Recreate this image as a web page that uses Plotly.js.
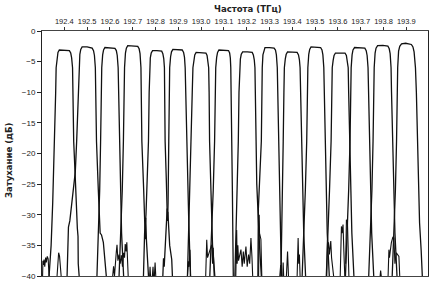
<!DOCTYPE html>
<html><head><meta charset="utf-8">
<script src="https://cdn.plot.ly/plotly-3.0.1.min.js"></script>
<style>html,body{margin:0;padding:0;background:#fff}#chart{width:436px;height:285px}</style>
</head><body><div id="chart"></div>
<script>
// Frequency tick labels (THz) on the top axis
const freqTicks = [192.4,192.5,192.6,192.7,192.8,192.9,193.0,193.1,193.2,193.3,193.4,193.5,193.6,193.7,193.8,193.9];
const freqTickText = ["192.4","192.5","192.6","192.7","192.8","192.9","193.0","193.1","193.2","193.3","193.4","193.5","193.6","193.7","193.8","193.9"];
const attTicks = [0,-5,-10,-15,-20,-25,-30,-35,-40];

// Channel responses: frequency (THz) and attenuation (dB)
const freq01 = [192.333,192.342,192.349,192.358,192.362,192.364,192.368,192.372,192.378,192.400,192.422,192.428,192.432,192.436,192.438,192.441,192.448,192.453,192.457,192.460,192.461,192.465];
const att01  = [-40,-35,-28,-18,-10,-6,-4.3,-3.5,-3.1,-3.1,-3.2,-3.6,-4.4,-6,-10,-18,-24,-30,-32.2,-33.5,-38,-40];
const freq02 = [192.412,192.418,192.424,192.448,192.454,192.461,192.464,192.468,192.472,192.478,192.500,192.522,192.528,192.532,192.536,192.538,192.541,192.549,192.557,192.563,192.571,192.584];
const att02  = [-40,-32,-31,-23,-18,-10,-6,-3.8,-3.0,-2.6,-2.6,-2.8,-3.2,-4.0,-6,-10,-18,-26,-33,-33.3,-34.5,-40];
const freq03 = [192.543,192.550,192.555,192.559,192.562,192.564,192.568,192.572,192.578,192.600,192.622,192.628,192.632,192.636,192.638,192.641,192.646,192.651,192.660];
const att03  = [-40,-33,-26,-18,-10,-6,-3.9,-3.1,-2.7,-2.75,-2.85,-3.2,-4.0,-6,-10,-18,-26,-33,-40];
const freq04 = [192.640,192.648,192.654,192.659,192.662,192.664,192.668,192.672,192.678,192.700,192.722,192.728,192.732,192.736,192.738,192.740,192.748,192.753,192.755,192.757,192.760,192.769];
const att04  = [-40,-33,-26,-18,-10,-6,-3.6,-2.8,-2.4,-2.4,-2.5,-2.9,-3.7,-6,-10,-18,-26,-30.8,-34,-30.5,-34.1,-40];
const freq05 = [192.747,192.752,192.758,192.769,192.772,192.774,192.777,192.781,192.787,192.806,192.827,192.832,192.836,192.839,192.840,192.842,192.847,192.850,192.852,192.854,192.862,192.871,192.874];
const att05  = [-40,-33,-30,-18,-10,-6,-4.4,-3.6,-3.2,-3.2,-3.3,-3.7,-4.5,-6,-10,-18,-24,-29.2,-31,-29.5,-35,-37.3,-40];
const freq06 = [192.832,192.835,192.838,192.846,192.851,192.853,192.855,192.858,192.860,192.862,192.866,192.870,192.876,192.897,192.917,192.923,192.927,192.930,192.932,192.936,192.940,192.945,192.953];
const att06  = [-40,-37.1,-38.5,-33,-29,-31,-28,-18,-10,-6,-4.2,-3.4,-3.0,-3.0,-3.1,-3.5,-4.3,-6,-10,-18,-24,-30,-40];
const freq07 = [192.940,192.946,192.950,192.955,192.961,192.964,192.968,192.972,192.978,193.000,193.021,193.026,193.030,193.033,193.035,193.037,193.043,193.050,193.060];
const att07  = [-40,-30,-24,-18,-10,-6,-4.7,-3.9,-3.5,-3.5,-3.6,-4.0,-4.8,-6,-10,-18,-26,-35,-40];
const freq08 = [193.038,193.047,193.053,193.059,193.062,193.064,193.068,193.072,193.078,193.099,193.120,193.125,193.128,193.130,193.132,193.135,193.137,193.139,193.141];
const att08  = [-40,-33,-26,-18,-10,-6,-4.3,-3.5,-3.1,-3.1,-3.2,-3.6,-4.4,-6,-10,-18,-26,-33,-40];
const freq09 = [193.148,193.153,193.157,193.163,193.166,193.168,193.172,193.176,193.182,193.203,193.224,193.229,193.233,193.236,193.238,193.240,193.244,193.256,193.264];
const att09  = [-40,-33,-26,-18,-10,-6,-4.6,-3.8,-3.4,-3.4,-3.5,-3.9,-4.7,-6,-10,-18,-25,-35,-40];
const freq10 = [193.249,193.251,193.264,193.266,193.268,193.271,193.275,193.280,193.300,193.320,193.326,193.330,193.334,193.336,193.340,193.343,193.346,193.352];
const att10  = [-40,-29,-18,-10,-6,-3.9,-3.1,-2.7,-2.7,-2.8,-3.1,-3.9,-6,-10,-18,-26,-33,-40];
const freq11 = [193.350,193.354,193.357,193.360,193.363,193.365,193.369,193.373,193.379,193.400,193.421,193.427,193.431,193.434,193.436,193.440,193.445,193.450,193.458];
const att11  = [-40,-33,-26,-18,-10,-6,-4.6,-3.8,-3.4,-3.4,-3.5,-3.9,-4.7,-6,-10,-18,-26,-33,-40];
const freq12 = [193.443,193.451,193.457,193.463,193.466,193.468,193.472,193.476,193.482,193.503,193.524,193.530,193.534,193.538,193.540,193.545,193.548,193.553,193.562];
const att12  = [-40,-33,-26,-18,-10,-6,-3.8,-3.0,-2.6,-2.6,-2.7,-3.1,-3.9,-6,-10,-18,-26,-33,-40];
const freq13 = [193.549,193.557,193.563,193.570,193.573,193.575,193.579,193.583,193.589,193.610,193.631,193.637,193.641,193.645,193.647,193.651,193.656,193.661,193.670];
const att13  = [-40,-33,-26,-18,-10,-6,-4.8,-4.0,-3.6,-3.55,-3.6,-4.0,-4.8,-6,-10,-18,-26,-33,-40];
const freq14 = [193.633,193.641,193.647,193.653,193.656,193.658,193.662,193.666,193.673,193.696,193.718,193.724,193.728,193.732,193.734,193.738,193.743,193.748,193.757];
const att14  = [-40,-33,-26,-18,-10,-6,-3.9,-3.1,-2.7,-2.7,-2.8,-3.2,-4.0,-6,-10,-18,-26,-33,-40];
const freq15 = [193.735,193.743,193.749,193.754,193.757,193.759,193.763,193.767,193.774,193.797,193.819,193.825,193.829,193.833,193.835,193.840,193.845,193.850,193.859];
const att15  = [-40,-33,-26,-18,-10,-6,-3.6,-2.8,-2.4,-2.35,-2.45,-2.9,-3.7,-6,-10,-18,-26,-33,-40];
const freq16 = [193.838,193.846,193.852,193.857,193.860,193.862,193.866,193.871,193.879,193.897,193.922,193.929,193.934,193.940,193.944,193.950,193.954,193.958,193.965,193.970];
const att16  = [-40,-33,-26,-18,-10,-6,-3.3,-2.5,-2.1,-2.0,-2.2,-2.6,-3.4,-6,-10,-18,-26,-31.3,-35.8,-40];

// Out-of-band noise bumps near the floor (null separates bumps)
const noiseFreq = [192.3046,192.306,192.308,192.311,192.314,192.318,192.321,192.325,192.329,192.333,null,
  192.368,192.372,192.375,192.379,192.383,192.386,null,
  192.612,192.616,192.620,192.624,192.628,192.631,192.635,192.640,192.645,192.650,192.655,192.660,192.664,192.667,192.671,192.674,192.677,192.680,null,
  192.774,192.776,192.778,null,192.786,192.789,192.791,null,192.795,192.798,192.801,null,
  192.940,192.944,192.947,192.951,192.954,null,
  193.020,193.0245,193.028,193.0389,193.0464,193.050,193.053,193.057,null,
  193.152,193.1558,193.158,193.161,193.164,193.1746,193.180,193.185,193.189,193.1965,193.202,193.208,193.213,193.2184,193.223,193.226,null,
  193.252,193.2547,193.256,193.2621,193.266,null,
  193.345,193.349,193.352,null,193.358,193.3597,193.362,null,193.374,193.379,193.383,null,
  193.421,193.4254,193.428,193.431,193.434,null,
  193.551,193.554,193.5567,193.5585,193.5625,193.5685,193.572,193.577,193.581,null,
  193.610,193.6153,193.618,193.6223,193.626,193.630,null,
  193.634,193.6372,193.6416,193.645,193.648,null,
  193.785,193.7873,193.790,null,
  193.820,193.8236,193.826,193.8341,193.8411,193.8455,193.850,193.856,193.8674,193.871];
const noiseAtt = [-40,-37.5,-38.2,-37.3,-38.5,-37,-37.8,-36.8,-37.2,-40,null,
  -40,-37.5,-36.2,-36.8,-38.5,-40,null,
  -40,-38.4,-40,-37,-36,-34.9,-37.5,-36.5,-38,-36.6,-38.5,-36.2,-37,-34.8,-36,-34.5,-37.5,-40,null,
  -40,-38.5,-40,null,-40,-38.5,-40,null,-40,-37.8,-40,null,
  -40,-37.6,-38.5,-35.7,-40,null,
  -40,-34.1,-37,-35.7,-34.9,-38,-35.4,-40,null,
  -40,-32.5,-38,-35,-37.5,-35.7,-38.5,-36,-38,-35.2,-38.5,-36.5,-38,-33.8,-37,-40,null,
  -40,-30,-33,-34,-40,null,
  -40,-38.2,-40,null,-40,-37.8,-40,null,-40,-36,-40,null,
  -40,-33.8,-38,-36.5,-40,null,
  -40,-34.1,-35.5,-34.5,-36.5,-34.3,-37,-38.5,-40,null,
  -40,-31.9,-33,-31.6,-36,-40,null,
  -38,-30.8,-31.1,-37,-40,null,
  -40,-39.1,-40,null,
  -40,-35.7,-37,-34.6,-33.6,-33.8,-38,-36.2,-36.8,-40];

const channels = [
  [freq01,att01],[freq02,att02],[freq03,att03],[freq04,att04],
  [freq05,att05],[freq06,att06],[freq07,att07],[freq08,att08],
  [freq09,att09],[freq10,att10],[freq11,att11],[freq12,att12],
  [freq13,att13],[freq14,att14],[freq15,att15],[freq16,att16]
];

const lineStyle = {color:'#111', width:1.3};
const traces = channels.map(c => ({x:c[0], y:c[1], type:'scatter', mode:'lines', line:lineStyle, hoverinfo:'skip'}));
traces.push({x:noiseFreq, y:noiseAtt, type:'scatter', mode:'lines', line:{color:'#111', width:1.1}, connectgaps:false, hoverinfo:'skip'});

const tickFamily = '"Liberation Sans", Arial, sans-serif';
const titleFamily = '"DejaVu Sans Condensed", "Liberation Sans Narrow", sans-serif';

const layout = {
  width:436, height:285,
  margin:{l:42, r:8, t:31, b:9, pad:0},
  paper_bgcolor:'#fff', plot_bgcolor:'#fff',
  showlegend:false,
  font:{family:tickFamily, size:8, color:'#222'},
  xaxis:{
    side:'top', range:[192.302,193.995], tickmode:'array', tickvals:freqTicks, ticktext:freqTickText,
    tickangle:0, automargin:false,
    ticks:'outside', ticklen:3, tickwidth:1, tickcolor:'#333',
    showline:true, linecolor:'#444', linewidth:1, mirror:true,
    showgrid:false, zeroline:false, tickfont:{family:tickFamily, size:7.5, color:'#222'}
  },
  yaxis:{
    range:[-40,0], tickmode:'array', tickvals:attTicks, automargin:false,
    ticks:'outside', ticklen:4, tickwidth:1, tickcolor:'#222',
    showline:true, linecolor:'#222', linewidth:1, mirror:true,
    showgrid:false, zeroline:false, tickfont:{family:tickFamily, size:8, color:'#222'}
  },
  annotations:[
    {text:'<b>Частота (ТГц)</b>', xref:'paper', yref:'paper', x:0.533, y:1, xanchor:'center', yanchor:'middle', yshift:23, showarrow:false, font:{family:titleFamily, size:9.5, color:'#222'}},
    {text:'<b>Затухание (дБ)</b>', xref:'paper', yref:'paper', x:0, y:0.473, xanchor:'center', yanchor:'middle', xshift:-34, textangle:-90, showarrow:false, font:{family:titleFamily, size:9.5, color:'#222'}}
  ]
};

Plotly.newPlot('chart', traces, layout, {staticPlot:true, displayModeBar:false});
</script></body></html>
